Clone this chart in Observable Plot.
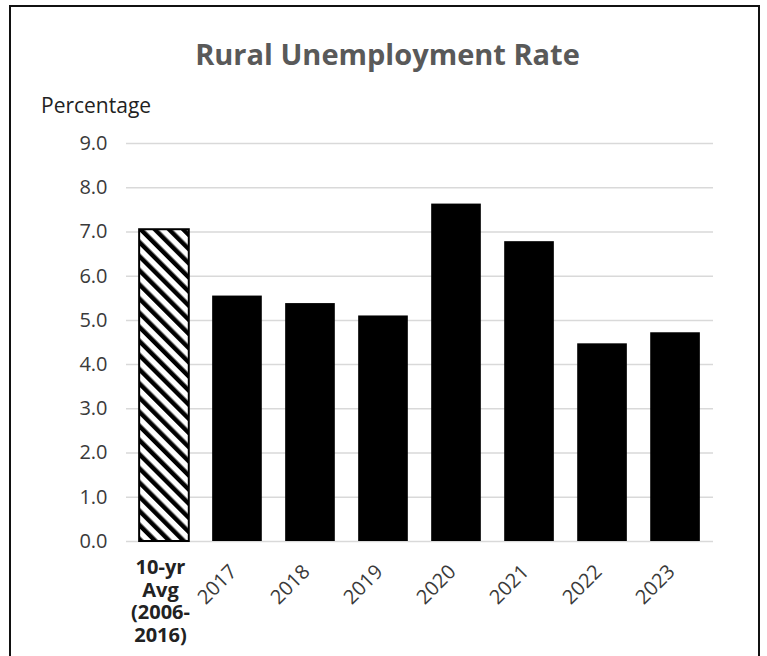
<!DOCTYPE html>
<html><head><meta charset="utf-8">
<script src="https://cdn.jsdelivr.net/npm/d3@7"></script>
<script src="https://cdn.jsdelivr.net/npm/@observablehq/plot@0.6"></script>
<style>
html,body{margin:0;padding:0;background:#fff;overflow:hidden;width:767px;height:656px;}
#frame{position:absolute;left:9px;top:5px;width:751px;height:720px;border:2px solid #111;box-sizing:border-box;}
#title{position:absolute;left:0;width:775px;top:39px;text-align:center;font-family:"Open Sans",sans-serif;font-weight:bold;font-size:29px;line-height:29px;color:#595959;white-space:nowrap;}
#ylab{position:absolute;left:41px;top:95px;font-family:"Open Sans",sans-serif;font-size:21px;line-height:20px;color:#222;white-space:nowrap;}
#chart{position:absolute;left:0;top:120px;}
</style></head>
<body>
<div id="frame"></div>
<div id="title"></div>
<div id="ylab"></div>
<div id="chart"></div>
<script>
const chartTitle = "Rural Unemployment Rate";
const yAxisLabel = "Percentage";
const categories = ["10-yr Avg (2006-2016)","2017","2018","2019","2020","2021","2022","2023"];
const rates = [7.05,5.55,5.38,5.1,7.63,6.78,4.47,4.72];
const yTicks = [0,1,2,3,4,5,6,7,8,9];
const avgLabel = "10-yr\nAvg\n(2006-\n2016)";

document.getElementById("title").textContent = chartTitle;
document.getElementById("ylab").textContent = yAxisLabel;

const data = categories.map((c,i)=>({category:c, rate:rates[i]}));
const avgCat = categories[0];
const years = categories.slice(1);

const chart = Plot.plot({
  width: 767, height: 536,
  marginLeft: 126, marginRight: 54, marginTop: 23, marginBottom: 115,
  style: {fontFamily: "'Open Sans', sans-serif", fontSize: "20px", color: "#3a3a3a", background: "transparent", overflow: "visible"},
  x: {domain: categories, paddingInner: 0.32, paddingOuter: 0.18, round: false, axis: null},
  y: {domain: [0, 9], axis: null},
  marks: [
    Plot.gridY(yTicks, {stroke: "#d9d9d9", strokeOpacity: 1, strokeWidth: 1.5}),
    Plot.barY(data.filter(d => d.category === avgCat), {x: "category", y: "rate", fill: "url(#hatch)", stroke: "#000", strokeWidth: 2}),
    Plot.barY(data.filter(d => d.category !== avgCat), {x: "category", y: "rate", fill: "#000"}),
    Plot.axisY(yTicks, {tickSize: 0, tickPadding: 19, tickFormat: d3.format(".1f"), fill: "#3a3a3a", label: null}),
    Plot.text(years, {x: d => d, frameAnchor: "bottom", dy: 27, dx: -4, rotate: -45, textAnchor: "end", lineAnchor: "middle", fill: "#3a3a3a"}),
    Plot.text([avgCat], {x: d => d, text: () => avgLabel, frameAnchor: "bottom", dy: 17, dx: -4, fontWeight: "bold", lineHeight: 1.12, lineAnchor: "top", fill: "#222"})
  ]
});

const ns = "http://www.w3.org/2000/svg";
const defs = document.createElementNS(ns, "defs");
defs.innerHTML = '<pattern id="hatch" patternUnits="userSpaceOnUse" width="10" height="10" patternTransform="rotate(-45)"><rect width="10" height="10" fill="#fff"/><rect x="0" y="0" width="4.5" height="10" fill="#000"/></pattern>';
chart.insertBefore(defs, chart.firstChild);
document.getElementById("chart").appendChild(chart);
</script>
</body></html>
